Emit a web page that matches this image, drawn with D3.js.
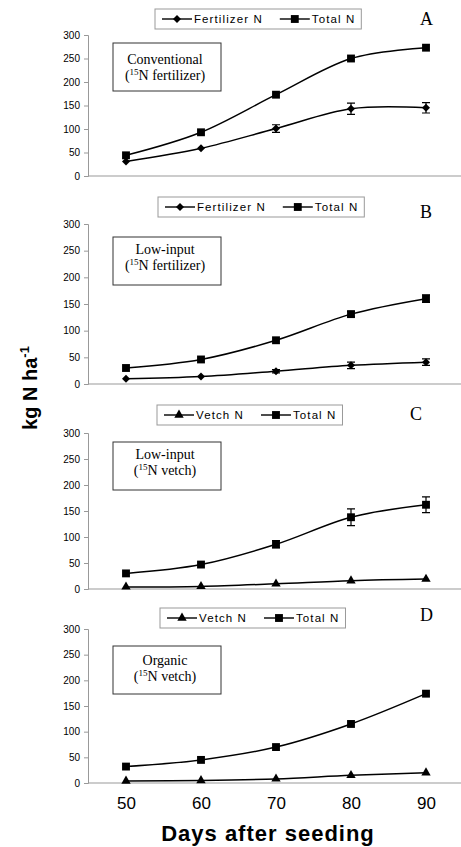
<!DOCTYPE html>
<html>
<head>
<meta charset="utf-8">
<script src="https://cdn.jsdelivr.net/npm/d3@7"></script>
<style>
body { margin: 0; background: #fff; }
svg { display: block; }
</style>
</head>
<body>
<svg id="chart" width="461" height="847"></svg>
<script>
const days = [50, 60, 70, 80, 90]
const yTicks = [0, 50, 100, 150, 200, 250, 300]

// A: conventional, 15N fertilizer
const fertA = [31, 59, 101, 143, 145]
const fertAErr = [0, 0, 8, 12, 11]
const totalA = [44, 93, 173, 250, 273]
const totalAErr = [0, 0, 0, 0, 0]

// B: low-input, 15N fertilizer
const fertB = [10, 14, 24, 35, 41]
const fertBErr = [0, 0, 3, 6, 6]
const totalB = [30, 46, 82, 131, 160]
const totalBErr = [0, 0, 0, 5, 7]

// C: low-input, 15N vetch
const vetchC = [4, 5, 10, 16, 19]
const vetchCErr = [0, 0, 0, 0, 0]
const totalC = [30, 47, 86, 138, 162]
const totalCErr = [0, 0, 7, 16, 15]

// D: organic, 15N vetch
const vetchD = [4, 5, 8, 15, 20]
const vetchDErr = [0, 0, 0, 0, 0]
const totalD = [32, 45, 70, 115, 174]
const totalDErr = [0, 0, 0, 0, 0]

const sans = "'Liberation Sans', Arial, sans-serif"
const serif = "'Liberation Serif', 'Times New Roman', serif"

const panels = [
  { letter: 'A', top: 35, bottom: 176, legendX: 155, legendY: 9, letterX: 420, letterY: 25,
    boxY: 43, line1: 'Conventional', tag: 'fertilizer', l1: 21, l2: 37,
    series: [
      { label: 'Fertilizer N', values: fertA, err: fertAErr, marker: 'diamond' },
      { label: 'Total N', values: totalA, err: totalAErr, marker: 'square' }] },
  { letter: 'B', top: 224, bottom: 384, legendX: 158, legendY: 197, letterX: 420, letterY: 218,
    boxY: 237, line1: 'Low-input', tag: 'fertilizer', l1: 17, l2: 33,
    series: [
      { label: 'Fertilizer N', values: fertB, err: fertBErr, marker: 'diamond' },
      { label: 'Total N', values: totalB, err: totalBErr, marker: 'square' }] },
  { letter: 'C', top: 433, bottom: 589, legendX: 157, legendY: 405, letterX: 410, letterY: 420,
    boxY: 442, line1: 'Low-input', tag: 'vetch', l1: 17, l2: 33,
    series: [
      { label: 'Vetch N', values: vetchC, err: vetchCErr, marker: 'triangle' },
      { label: 'Total N', values: totalC, err: totalCErr, marker: 'square' }] },
  { letter: 'D', top: 629, bottom: 783, legendX: 160, legendY: 608, letterX: 420, letterY: 621,
    boxY: 646, line1: 'Organic', tag: 'vetch', l1: 19, l2: 35,
    series: [
      { label: 'Vetch N', values: vetchD, err: vetchDErr, marker: 'triangle' },
      { label: 'Total N', values: totalD, err: totalDErr, marker: 'square' }] }
]

const svg = d3.select('#chart')

const x = d3.scalePoint().domain(days).range([126, 426])

const markerPath = (type) => {
  if (type === 'square') return d3.symbol(d3.symbolSquare, 62)()
  if (type === 'triangle') return d3.symbol(d3.symbolTriangle, 38)()
  return d3.symbol(d3.symbolSquare, 32)()
}
const markerRotate = type => type === 'diamond' ? ' rotate(45)' : ''

const line = d3.line().curve(d3.curveCardinal.tension(0))

panels.forEach((p, pi) => {
  const y = d3.scaleLinear().domain([0, 300]).range([p.bottom, p.top])
  const g = svg.append('g')

  // y axis
  const ya = g.append('g')
    .attr('transform', 'translate(88,0)')
    .call(d3.axisLeft(y).tickValues(yTicks).tickSize(4).tickPadding(4))
  ya.select('.domain').attr('stroke', '#999')
  ya.selectAll('.tick line').attr('stroke', '#999')
  ya.selectAll('.tick text').attr('font-family', sans).attr('font-size', 10).attr('fill', '#000')

  // x axis
  const xa = g.append('g')
    .attr('transform', `translate(0,${p.bottom})`)
    .call(d3.axisBottom(x).tickSize(0).tickPadding(14))
  xa.select('.domain').remove()
  xa.append('line').attr('x1', 88).attr('x2', 461).attr('stroke', '#999')
  if (pi < panels.length - 1) xa.selectAll('.tick text').remove()
  else xa.selectAll('.tick text').attr('font-family', sans).attr('font-size', 17).attr('fill', '#000')

  // series
  p.series.forEach(s => {
    const pts = days.map((d, i) => [x(d), y(s.values[i])])
    g.append('path')
      .attr('d', line(pts))
      .attr('fill', 'none')
      .attr('stroke', '#000')
      .attr('stroke-width', 1.5)

    days.forEach((d, i) => {
      const e = s.err[i]
      if (!e) return
      const cx = x(d)
      const y1 = y(s.values[i] + e), y2 = y(s.values[i] - e)
      g.append('path')
        .attr('d', `M${cx},${y1}V${y2}M${cx - 4},${y1}H${cx + 4}M${cx - 4},${y2}H${cx + 4}`)
        .attr('stroke', '#000')
        .attr('stroke-width', 1.2)
        .attr('fill', 'none')
    })

    g.selectAll(null).data(pts).enter().append('path')
      .attr('d', markerPath(s.marker))
      .attr('transform', d => `translate(${d[0]},${d[1]})${markerRotate(s.marker)}`)
      .attr('fill', '#000')
  })

  // legend
  const lg = g.append('g').attr('transform', `translate(${p.legendX},${p.legendY})`)
  const box = lg.append('rect').attr('y', 0).attr('height', 20)
    .attr('fill', '#fff').attr('stroke', '#999').attr('stroke-width', 1)
  let cx = 7
  p.series.forEach((s, i) => {
    lg.append('line').attr('x1', cx).attr('x2', cx + 30).attr('y1', 10).attr('y2', 10)
      .attr('stroke', '#000').attr('stroke-width', 1.4)
    lg.append('path').attr('d', markerPath(s.marker))
      .attr('transform', `translate(${cx + 15},10)${markerRotate(s.marker)}`)
      .attr('fill', '#000')
    const t = lg.append('text').attr('x', cx + 32).attr('y', 14)
      .attr('font-family', sans).attr('font-size', 11.5).attr('letter-spacing', 1.1)
      .text(s.label)
    cx += 32 + t.node().getComputedTextLength() + (i === 0 ? 17 : 6)
  })
  box.attr('width', cx)

  // panel letter
  g.append('text').attr('x', p.letterX).attr('y', p.letterY)
    .attr('font-family', serif).attr('font-size', 18).text(p.letter)

  // treatment box
  g.append('rect').attr('x', 113).attr('y', p.boxY).attr('width', 108).attr('height', 48)
    .attr('fill', '#fff').attr('stroke', '#333').attr('stroke-width', 1)
  g.append('text').attr('x', 165).attr('y', p.boxY + p.l1).attr('text-anchor', 'middle')
    .attr('font-family', serif).attr('font-size', 14).text(p.line1)
  const t2 = g.append('text').attr('x', 165).attr('y', p.boxY + p.l2).attr('text-anchor', 'middle')
    .attr('font-family', serif).attr('font-size', 14)
  t2.append('tspan').text('(')
  t2.append('tspan').attr('font-size', 9).attr('dy', -5).text('15')
  t2.append('tspan').attr('dy', 5).text(`N ${p.tag})`)
})

// axis titles
svg.append('text')
  .attr('transform', 'translate(37,388) rotate(-90)')
  .attr('text-anchor', 'middle')
  .attr('font-family', sans).attr('font-size', 20).attr('font-weight', 'bold')
  .call(t => {
    t.append('tspan').text('kg N ha')
    t.append('tspan').attr('font-size', 13).attr('dy', -8).text('-1')
  })

svg.append('text')
  .attr('x', 268).attr('y', 841)
  .attr('text-anchor', 'middle')
  .attr('font-family', sans).attr('font-size', 22).attr('font-weight', 'bold')
  .attr('letter-spacing', 1)
  .text('Days after seeding')
</script>
</body>
</html>
